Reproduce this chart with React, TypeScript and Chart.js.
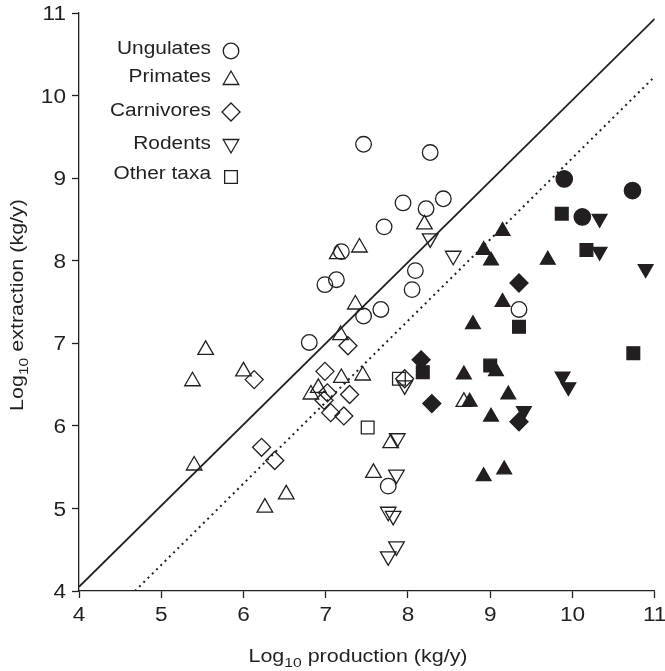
import { useEffect, useRef } from 'react';
import { Chart, registerables } from 'chart.js';

Chart.register(...registerables);

// ---- tick labels ----
const xTickValues = [4, 5, 6, 7, 8, 9, 10, 11];
const yTickValues = [4, 5, 6, 7, 8, 9, 10, 11];

// ---- data (log10 production, log10 extraction) ----
const ungulatesOpenX = [7.46, 8.27, 7.94, 8.22, 8.43, 7.71, 7.19, 6.99, 7.13, 8.09, 8.05, 7.67, 7.46, 6.8, 9.35, 7.76];
const ungulatesOpenY = [9.41, 9.31, 8.7, 8.63, 8.75, 8.41, 8.11, 7.71, 7.77, 7.88, 7.65, 7.41, 7.33, 7.01, 7.41, 5.27];
const ungulatesFilledX = [9.9, 10.73, 10.12];
const ungulatesFilledY = [8.99, 8.85, 8.53];

const primatesOpenX = [8.2, 7.41, 7.14, 7.36, 7.18, 7.19, 7.45, 6.82, 6.91, 8.68, 5.54, 5.38, 6.0, 5.4, 6.52, 6.26, 7.79, 7.58];
const primatesOpenY = [8.44, 8.16, 8.08, 7.47, 7.1, 6.58, 6.61, 6.38, 6.46, 6.29, 6.92, 6.54, 6.66, 5.52, 5.17, 5.01, 5.79, 5.43];
const primatesFilledX = [9.15, 8.92, 9.01, 9.7, 9.15, 8.79, 9.07, 8.68, 9.22, 8.75, 9.01, 9.17, 8.92];
const primatesFilledY = [8.36, 8.13, 8.0, 8.01, 7.5, 7.23, 6.66, 6.62, 6.38, 6.29, 6.11, 5.47, 5.39];

const carnivoresOpenX = [7.27, 6.99, 7.02, 7.29, 6.98, 7.06, 7.22, 7.96, 6.13, 6.22, 6.38];
const carnivoresOpenY = [6.97, 6.66, 6.4, 6.38, 6.31, 6.16, 6.12, 6.57, 6.56, 5.74, 5.58];
const carnivoresFilledX = [8.16, 8.29, 9.35, 9.35];
const carnivoresFilledY = [6.8, 6.27, 7.73, 6.05];

const rodentsOpenX = [8.27, 8.55, 7.96, 7.87, 7.86, 7.76, 7.82, 7.86, 7.76];
const rodentsOpenY = [8.27, 8.06, 6.49, 5.85, 5.41, 4.96, 4.91, 4.54, 4.42];
const rodentsFilledX = [10.33, 10.33, 10.89, 9.88, 9.95, 9.41];
const rodentsFilledY = [8.51, 8.11, 7.9, 6.6, 6.47, 6.18];

const otherOpenX = [7.51, 7.89];
const otherOpenY = [5.98, 6.57];
const otherFilledX = [9.87, 10.17, 9.35, 10.74, 9.0, 8.18];
const otherFilledY = [8.57, 8.13, 7.2, 6.88, 6.73, 6.65];

// ---- reference lines ----
const solidLineX = [4, 11];
const solidLineY = [4.05, 10.93];
const dottedLineX = [4.68, 11];
const dottedLineY = [4, 10.23];

// ---- text ----
const legendLabels = ['Ungulates', 'Primates', 'Carnivores', 'Rodents', 'Other taxa'];
const legendShapes = ['circle', 'triangle', 'diamond', 'triangleDown', 'square'];
const xTitleRest = ' production (kg/y)';
const yTitleRest = ' extraction (kg/y)';
const titleLead = 'Log';
const titleSub = '10';

const INK = '#231f20';
const FONT = '"Liberation Sans", Arial, Helvetica, sans-serif';
const SX = 1.16;
const TICK_SX = 1.13;

function pts(xs: number[], ys: number[]) {
  return xs.map((x, i) => ({ x, y: ys[i] }));
}

function scatter(label: string, xs: number[], ys: number[], style: string, filled: boolean, rotation = 0, radius = 9) {
  return {
    type: 'scatter',
    label,
    data: pts(xs, ys),
    pointStyle: style,
    pointRotation: rotation,
    pointRadius: radius,
    pointHoverRadius: radius,
    pointBorderColor: INK,
    pointBackgroundColor: filled ? INK : 'rgba(0,0,0,0)',
    pointBorderWidth: 1.3,
    pointHoverBorderWidth: 1.3,
    borderColor: INK,
    backgroundColor: filled ? INK : 'rgba(0,0,0,0)',
    showLine: false,
  };
}

function drawMarker(ctx: CanvasRenderingContext2D, shape: string, x: number, y: number, filled: boolean) {
  const r = 9;
  ctx.beginPath();
  if (shape === 'circle') {
    ctx.arc(x, y, 7.8, 0, Math.PI * 2);
  } else if (shape === 'triangle' || shape === 'triangleDown') {
    const base = shape === 'triangle' ? 0 : Math.PI;
    for (let k = 0; k < 3; k++) {
      const a = base + (k * 2 * Math.PI) / 3;
      const px = x + Math.sin(a) * r;
      const py = y - Math.cos(a) * r;
      if (k === 0) ctx.moveTo(px, py);
      else ctx.lineTo(px, py);
    }
    ctx.closePath();
  } else if (shape === 'diamond') {
    ctx.moveTo(x, y - r);
    ctx.lineTo(x + r, y);
    ctx.lineTo(x, y + r);
    ctx.lineTo(x - r, y);
    ctx.closePath();
  } else {
    const s = r * Math.SQRT1_2;
    ctx.rect(x - s, y - s, 2 * s, 2 * s);
  }
  ctx.lineWidth = 1.3;
  ctx.strokeStyle = INK;
  if (filled) {
    ctx.fillStyle = INK;
    ctx.fill();
  }
  ctx.stroke();
}

function drawLogTitle(ctx: CanvasRenderingContext2D, rest: string, cx: number, baseline: number) {
  const main = `18.5px ${FONT}`;
  const sub = `13.5px ${FONT}`;
  ctx.font = main;
  const w1 = ctx.measureText(titleLead).width;
  ctx.font = sub;
  const w2 = ctx.measureText(titleSub).width;
  ctx.font = main;
  const w3 = ctx.measureText(rest).width;
  const total = (w1 + w2 + w3) * SX;
  ctx.save();
  ctx.translate(cx - total / 2, baseline);
  ctx.scale(SX, 1);
  ctx.textAlign = 'left';
  ctx.textBaseline = 'alphabetic';
  ctx.fillStyle = INK;
  ctx.font = main;
  ctx.fillText(titleLead, 0, 0);
  ctx.font = sub;
  ctx.fillText(titleSub, w1, 5);
  ctx.font = main;
  ctx.fillText(rest, w1 + w2, 0);
  ctx.restore();
}

function drawStretched(ctx: CanvasRenderingContext2D, text: string, x: number, y: number, align: CanvasTextAlign, sx: number, font: string) {
  ctx.save();
  ctx.translate(x, y);
  ctx.scale(sx, 1);
  ctx.font = font;
  ctx.textAlign = align;
  ctx.textBaseline = 'alphabetic';
  ctx.fillStyle = INK;
  ctx.fillText(text, 0, 0);
  ctx.restore();
}

const textPlugin = {
  id: 'customTexts',
  afterDraw(chart: any) {
    const ctx: CanvasRenderingContext2D = chart.ctx;
    const area = chart.chartArea;
    const xs = chart.scales.x;
    const ys = chart.scales.y;
    ctx.save();
    const tickFont = `20px ${FONT}`;
    // x tick labels
    xTickValues.forEach((v) => {
      drawStretched(ctx, String(v), xs.getPixelForValue(v), area.bottom + 30, 'center', TICK_SX, tickFont);
    });
    // y tick labels
    yTickValues.forEach((v) => {
      drawStretched(ctx, String(v), area.left - 13, ys.getPixelForValue(v) + 7.2, 'right', TICK_SX, tickFont);
    });
    // x title
    drawLogTitle(ctx, xTitleRest, 358, 661.5);
    // y title
    ctx.save();
    ctx.translate(23, (area.top + area.bottom) / 2 + 3);
    ctx.rotate(-Math.PI / 2);
    drawLogTitle(ctx, yTitleRest, 0, 0);
    ctx.restore();
    // legend
    const baselines = [54, 82, 116, 149, 179];
    const symY = [51, 80, 112, 144, 177];
    legendLabels.forEach((lab, i) => {
      drawStretched(ctx, lab, 211, baselines[i], 'right', SX, `18px ${FONT}`);
      drawMarker(ctx, legendShapes[i], 231, symY[i], false);
    });
    ctx.restore();
  },
};

export default function App() {
  const canvasRef = useRef<HTMLCanvasElement | null>(null);

  useEffect(() => {
    const canvas = canvasRef.current;
    if (!canvas) return;

    const axisCommon = {
      type: 'linear' as const,
      min: 4,
      max: 11,
      grid: {
        display: true,
        drawOnChartArea: false,
        drawTicks: true,
        tickLength: 7,
        tickColor: INK,
        tickWidth: 1.3,
        color: INK,
      },
      border: { display: true, color: INK, width: 1.3 },
    };

    const chart = new Chart(canvas, {
      type: 'scatter',
      data: {
        datasets: [
          {
            type: 'line',
            label: 'solid',
            data: pts(solidLineX, solidLineY),
            borderColor: INK,
            borderWidth: 1.8,
            pointRadius: 0,
            fill: false,
          },
          {
            type: 'line',
            label: 'dotted',
            data: pts(dottedLineX, dottedLineY),
            borderColor: INK,
            borderWidth: 2,
            borderDash: [2, 4],
            pointRadius: 0,
            fill: false,
          },
          scatter('Ungulates', ungulatesOpenX, ungulatesOpenY, 'circle', false, 0, 7.8),
          scatter('Ungulates (filled)', ungulatesFilledX, ungulatesFilledY, 'circle', true, 0, 8.2),
          scatter('Primates', primatesOpenX, primatesOpenY, 'triangle', false),
          scatter('Primates (filled)', primatesFilledX, primatesFilledY, 'triangle', true, 0, 8.5),
          scatter('Carnivores', carnivoresOpenX, carnivoresOpenY, 'rectRot', false),
          scatter('Carnivores (filled)', carnivoresFilledX, carnivoresFilledY, 'rectRot', true),
          scatter('Rodents', rodentsOpenX, rodentsOpenY, 'triangle', false, 180),
          scatter('Rodents (filled)', rodentsFilledX, rodentsFilledY, 'triangle', true, 180, 8.5),
          scatter('Other taxa', otherOpenX, otherOpenY, 'rect', false),
          scatter('Other taxa (filled)', otherFilledX, otherFilledY, 'rect', true),
        ] as any,
      },
      options: {
        responsive: false,
        animation: false,
        events: [],
        layout: { padding: { top: 13, right: 8, left: 0, bottom: 0 } },
        plugins: {
          legend: { display: false },
          tooltip: { enabled: false },
          title: { display: false },
        },
        scales: {
          x: {
            ...axisCommon,
            position: 'bottom',
            afterBuildTicks: (s: any) => {
              s.ticks = xTickValues.map((v) => ({ value: v }));
            },
            afterFit: (s: any) => {
              s.height = 80;
              s.paddingLeft = 0;
              s.paddingRight = 0;
            },
            ticks: { display: false, autoSkip: false },
          },
          y: {
            ...axisCommon,
            position: 'left',
            afterBuildTicks: (s: any) => {
              s.ticks = yTickValues.map((v) => ({ value: v }));
            },
            afterFit: (s: any) => {
              s.width = 79;
              s.paddingTop = 0;
              s.paddingBottom = 0;
            },
            ticks: { display: false, autoSkip: false },
          },
        },
      } as any,
      plugins: [textPlugin],
    });

    return () => {
      chart.destroy();
    };
  }, []);

  return (
    <div style={{ position: 'absolute', left: 0, top: 0, width: 665, height: 671, background: '#fff' }}>
      <canvas ref={canvasRef} width={665} height={671} style={{ display: 'block', width: 665, height: 671 }} />
    </div>
  );
}
